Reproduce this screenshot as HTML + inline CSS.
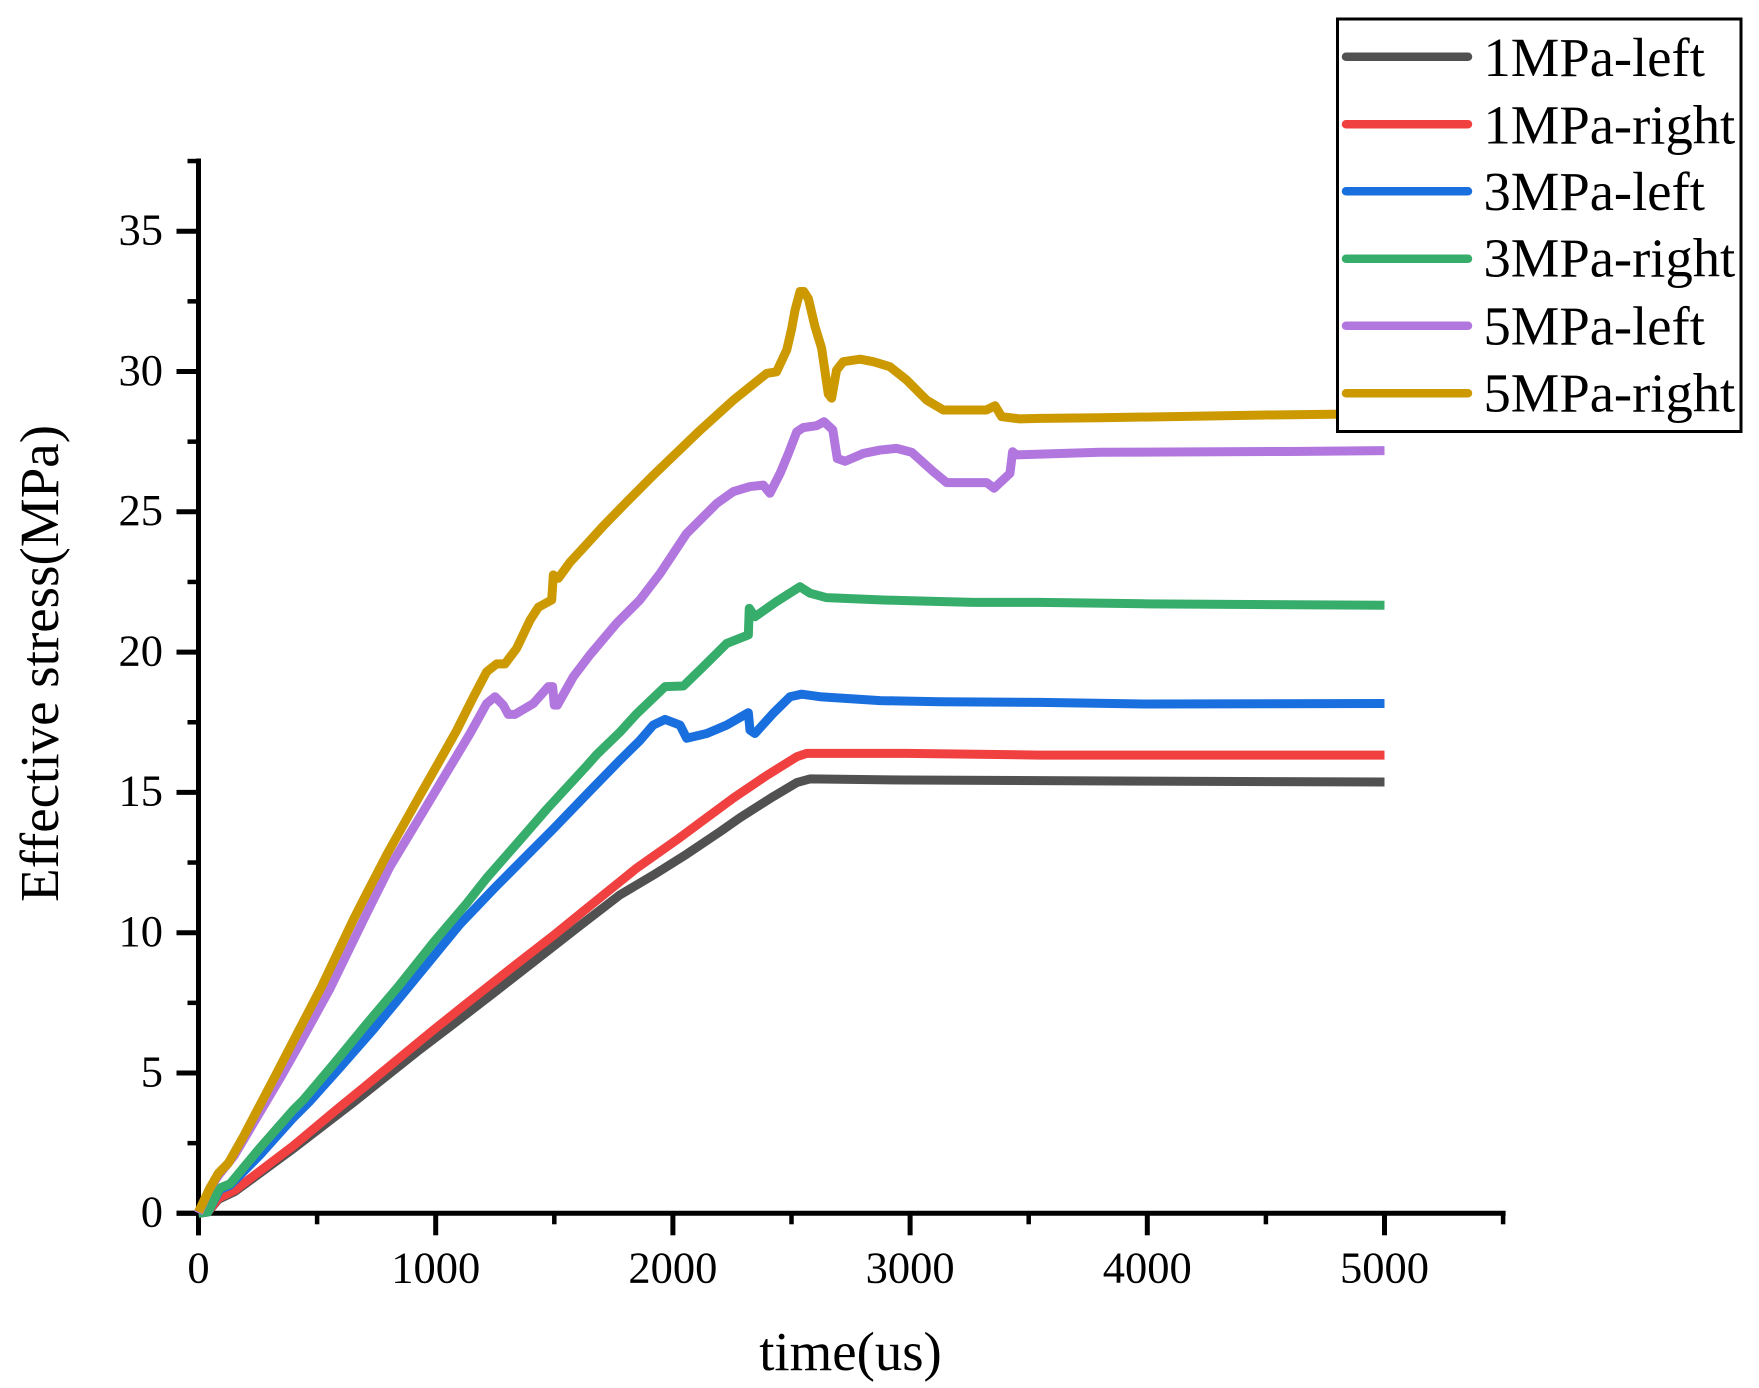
<!DOCTYPE html>
<html lang="en">
<head>
<meta charset="utf-8">
<title>Effective stress vs time</title>
<style>
html,body{margin:0;padding:0;background:#fff;}
svg{display:block;}
text{font-family:"Liberation Serif","Times New Roman",serif;fill:#000;}
</style>
</head>
<body>
<svg id="chart" xmlns="http://www.w3.org/2000/svg" width="1759" height="1388" viewBox="0 0 1759 1388">
  <rect x="0" y="0" width="1759" height="1388" fill="#ffffff"/>
  <g id="axes"></g>
  <g id="series"></g>
  <text x="850.5" y="1370" font-size="54.8" text-anchor="middle">time(us)</text>
  <text transform="translate(58 663.5) rotate(-90)" font-size="55" text-anchor="middle">Effective stress(MPa)</text>
  <g>
    <rect x="1337.5" y="19" width="403.5" height="412.5" fill="#ffffff" stroke="#000" stroke-width="3"/>
    <g>
      <line x1="1346" x2="1468" y1="56.7" y2="56.7" stroke="#515151" stroke-width="8.5" stroke-linecap="round"/>
      <text x="1483.5" y="76" font-size="54.6">1MPa-left</text>
    </g>
    <g>
      <line x1="1346" x2="1468" y1="124.3" y2="124.3" stroke="#F14040" stroke-width="8.5" stroke-linecap="round"/>
      <text x="1483.5" y="143.3" font-size="54.6">1MPa-right</text>
    </g>
    <g>
      <line x1="1346" x2="1468" y1="191.3" y2="191.3" stroke="#1A6FDF" stroke-width="8.5" stroke-linecap="round"/>
      <text x="1483.5" y="210" font-size="54.6">3MPa-left</text>
    </g>
    <g>
      <line x1="1346" x2="1468" y1="258.7" y2="258.7" stroke="#37AD6B" stroke-width="8.5" stroke-linecap="round"/>
      <text x="1483.5" y="276.7" font-size="54.6">3MPa-right</text>
    </g>
    <g>
      <line x1="1346" x2="1468" y1="325.7" y2="325.7" stroke="#B177DE" stroke-width="8.5" stroke-linecap="round"/>
      <text x="1483.5" y="344.3" font-size="54.6">5MPa-left</text>
    </g>
    <g>
      <line x1="1346" x2="1468" y1="393.3" y2="393.3" stroke="#CC9900" stroke-width="8.5" stroke-linecap="round"/>
      <text x="1483.5" y="411.7" font-size="54.6">5MPa-right</text>
    </g>
  </g>
</svg>
<script>
const xTickValues = [0, 1000, 2000, 3000, 4000, 5000];
const xMinorValues = [500, 1500, 2500, 3500, 4500, 5500];
const yTickValues = [0, 5, 10, 15, 20, 25, 30, 35];
const yMinorValues = [2.5, 7.5, 12.5, 17.5, 22.5, 27.5, 32.5, 37.5];

const time1Left = [0, 40, 84, 154, 399, 653, 779, 920, 1060, 1229, 1411, 1608, 1777, 1917, 2058, 2199, 2283, 2423, 2522, 2578, 2985, 3547, 4000, 5000];
const stress1Left = [0, 0.05, 0.5, 0.78, 2.3, 3.95, 4.8, 5.75, 6.65, 7.75, 8.95, 10.25, 11.35, 12.05, 12.8, 13.6, 14.1, 14.85, 15.35, 15.48, 15.44, 15.42, 15.4, 15.37];

const time1Right = [0, 40, 84, 154, 399, 583, 709, 849, 990, 1131, 1327, 1496, 1664, 1847, 2015, 2143, 2255, 2395, 2522, 2564, 2985, 3547, 4000, 5000];
const stress1Right = [0, 0.05, 0.54, 0.83, 2.4, 3.7, 4.57, 5.55, 6.53, 7.48, 8.79, 9.9, 11.05, 12.3, 13.3, 14.1, 14.8, 15.6, 16.27, 16.39, 16.39, 16.33, 16.33, 16.33];

const time3Left = [0, 40, 90, 133, 259, 399, 470, 597, 737, 835, 976, 1102, 1243, 1384, 1496, 1650, 1777, 1861, 1917, 1967, 2030, 2058, 2143, 2227, 2318, 2325, 2346, 2423, 2494, 2543, 2620, 2873, 3126, 3547, 4000, 5000];
const stress3Left = [0, 0.05, 0.85, 1.0, 2.08, 3.4, 4.0, 5.2, 6.55, 7.55, 9.0, 10.3, 11.55, 12.75, 13.7, 15.05, 16.15, 16.85, 17.4, 17.6, 17.4, 16.93, 17.1, 17.4, 17.84, 17.22, 17.1, 17.82, 18.41, 18.5, 18.41, 18.27, 18.23, 18.21, 18.15, 18.17];

const time3Right = [0, 40, 90, 133, 259, 399, 442, 568, 709, 849, 990, 1131, 1215, 1355, 1468, 1637, 1679, 1777, 1847, 1967, 2044, 2128, 2227, 2318, 2322, 2346, 2437, 2536, 2578, 2648, 2873, 3042, 3266, 3547, 4000, 5000];
const stress3Right = [0, 0.05, 0.9, 1.05, 2.33, 3.68, 4.04, 5.3, 6.75, 8.15, 9.65, 11.05, 11.95, 13.3, 14.4, 15.95, 16.35, 17.15, 17.8, 18.77, 18.79, 19.48, 20.31, 20.61, 21.56, 21.26, 21.8, 22.33, 22.1, 21.94, 21.86, 21.82, 21.77, 21.77, 21.72, 21.67];

const time5Left = [0, 48, 84, 150, 350, 428, 554, 695, 730, 807, 934, 1074, 1145, 1215, 1250, 1285, 1306, 1334, 1412, 1475, 1493, 1500, 1513, 1580, 1650, 1763, 1861, 1946, 2058, 2114, 2185, 2255, 2325, 2381, 2409, 2452, 2487, 2522, 2549, 2606, 2637, 2674, 2693, 2726, 2803, 2873, 2943, 3007, 3098, 3154, 3323, 3354, 3421, 3432, 3449, 3800, 4600, 5000];
const stress5Left = [0, 0.9, 1.35, 2.05, 4.9, 6.07, 8.0, 10.45, 11.05, 12.35, 14.13, 16.1, 17.1, 18.17, 18.41, 18.11, 17.78, 17.78, 18.17, 18.77, 18.77, 18.11, 18.11, 19.12, 19.9, 21.03, 21.86, 22.8, 24.23, 24.7, 25.3, 25.72, 25.9, 25.95, 25.66, 26.37, 27.08, 27.85, 28.0, 28.07, 28.21, 27.92, 26.9, 26.8, 27.08, 27.2, 27.26, 27.12, 26.43, 26.04, 26.04, 25.84, 26.37, 27.14, 27.03, 27.12, 27.15, 27.18];

const time5Right = [0, 48, 84, 126, 189, 330, 428, 519, 652, 695, 793, 934, 1018, 1088, 1159, 1215, 1257, 1292, 1341, 1398, 1433, 1489, 1496, 1517, 1566, 1637, 1707, 1805, 1917, 2114, 2255, 2395, 2437, 2480, 2500, 2515, 2536, 2552, 2571, 2599, 2627, 2655, 2669, 2690, 2718, 2789, 2845, 2915, 2985, 3070, 3140, 3322, 3358, 3386, 3463, 3548, 3800, 4500, 5000];
const stress5Right = [0.05, 0.9, 1.43, 1.79, 2.73, 5.0, 6.6, 8.08, 10.45, 11.17, 12.77, 14.9, 16.15, 17.2, 18.4, 19.3, 19.58, 19.58, 20.13, 21.14, 21.6, 21.86, 22.75, 22.63, 23.2, 23.85, 24.5, 25.35, 26.3, 27.9, 28.98, 29.93, 29.99, 30.77, 31.5, 32.19, 32.85, 32.85, 32.6, 31.6, 30.83, 29.2, 29.05, 30.05, 30.35, 30.44, 30.35, 30.17, 29.7, 28.98, 28.63, 28.63, 28.78, 28.39, 28.31, 28.33, 28.35, 28.45, 28.5];

const seriesNames = ['1mpa-left', '1mpa-right', '3mpa-left', '3mpa-right', '5mpa-left', '5mpa-right'];
const seriesColors = ['#515151', '#F14040', '#1A6FDF', '#37AD6B', '#B177DE', '#CC9900'];
const seriesTimes = [time1Left, time1Right, time3Left, time3Right, time5Left, time5Right];
const seriesStress = [stress1Left, stress1Right, stress3Left, stress3Right, stress5Left, stress5Right];

const NS = 'http://www.w3.org/2000/svg';
function xScale(t) { return 198.5 + t * 0.2372; }
function yScale(v) { return 1213.3 - v * 28.06; }

const axes = document.getElementById('axes');
const seriesGroup = document.getElementById('series');

function makeLine(x1, y1, x2, y2, w) {
  const l = document.createElementNS(NS, 'line');
  l.setAttribute('x1', x1);
  l.setAttribute('y1', y1);
  l.setAttribute('x2', x2);
  l.setAttribute('y2', y2);
  l.setAttribute('stroke', '#000');
  l.setAttribute('stroke-width', w);
  axes.appendChild(l);
  return l;
}
function makeLabel(x, y, anchor, str) {
  const t = document.createElementNS(NS, 'text');
  t.setAttribute('x', x);
  t.setAttribute('y', y);
  t.setAttribute('text-anchor', anchor);
  t.setAttribute('font-size', '44.5');
  t.textContent = str;
  axes.appendChild(t);
  return t;
}

const xAxisLine = makeLine(xScale(0) - 22, yScale(0), xScale(5500) + 2.5, yScale(0), 5);


const yAxisLine = makeLine(xScale(0), yScale(37.5) - 2.5, xScale(0), yScale(0) + 22, 5);



xTickValues.forEach(function (v) {
  const tick = makeLine(xScale(v), yScale(0), xScale(v), yScale(0) + 22, 5);
  
  
  const label = makeLabel(xScale(v), 1282.7, 'middle', String(v));
  
  
});
xMinorValues.forEach(function (v) {
  const tick = makeLine(xScale(v), yScale(0), xScale(v), yScale(0) + 11, 4.5);
  
  
});
yTickValues.forEach(function (v) {
  const tick = makeLine(xScale(0) - 22, yScale(v), xScale(0), yScale(v), 5);
  
  
  const label = makeLabel(163, yScale(v) + 13.3, 'end', String(v));
  
  
});
yMinorValues.forEach(function (v) {
  const tick = makeLine(xScale(0) - 11, yScale(v), xScale(0), yScale(v), 4.5);
  
  
});

seriesNames.forEach(function (name, i) {
  const pts = seriesTimes[i].map(function (t, j) {
    return xScale(t).toFixed(2) + ',' + yScale(seriesStress[i][j]).toFixed(2);
  }).join(' ');
  const p = document.createElementNS(NS, 'polyline');
  
  
  p.setAttribute('data-series', name);
  p.setAttribute('points', pts);
  p.setAttribute('fill', 'none');
  p.setAttribute('stroke', seriesColors[i]);
  p.setAttribute('stroke-width', '9');
  p.setAttribute('stroke-linejoin', 'round');
  p.setAttribute('stroke-linecap', 'butt');
  seriesGroup.appendChild(p);
});
</script>
</body>
</html>
